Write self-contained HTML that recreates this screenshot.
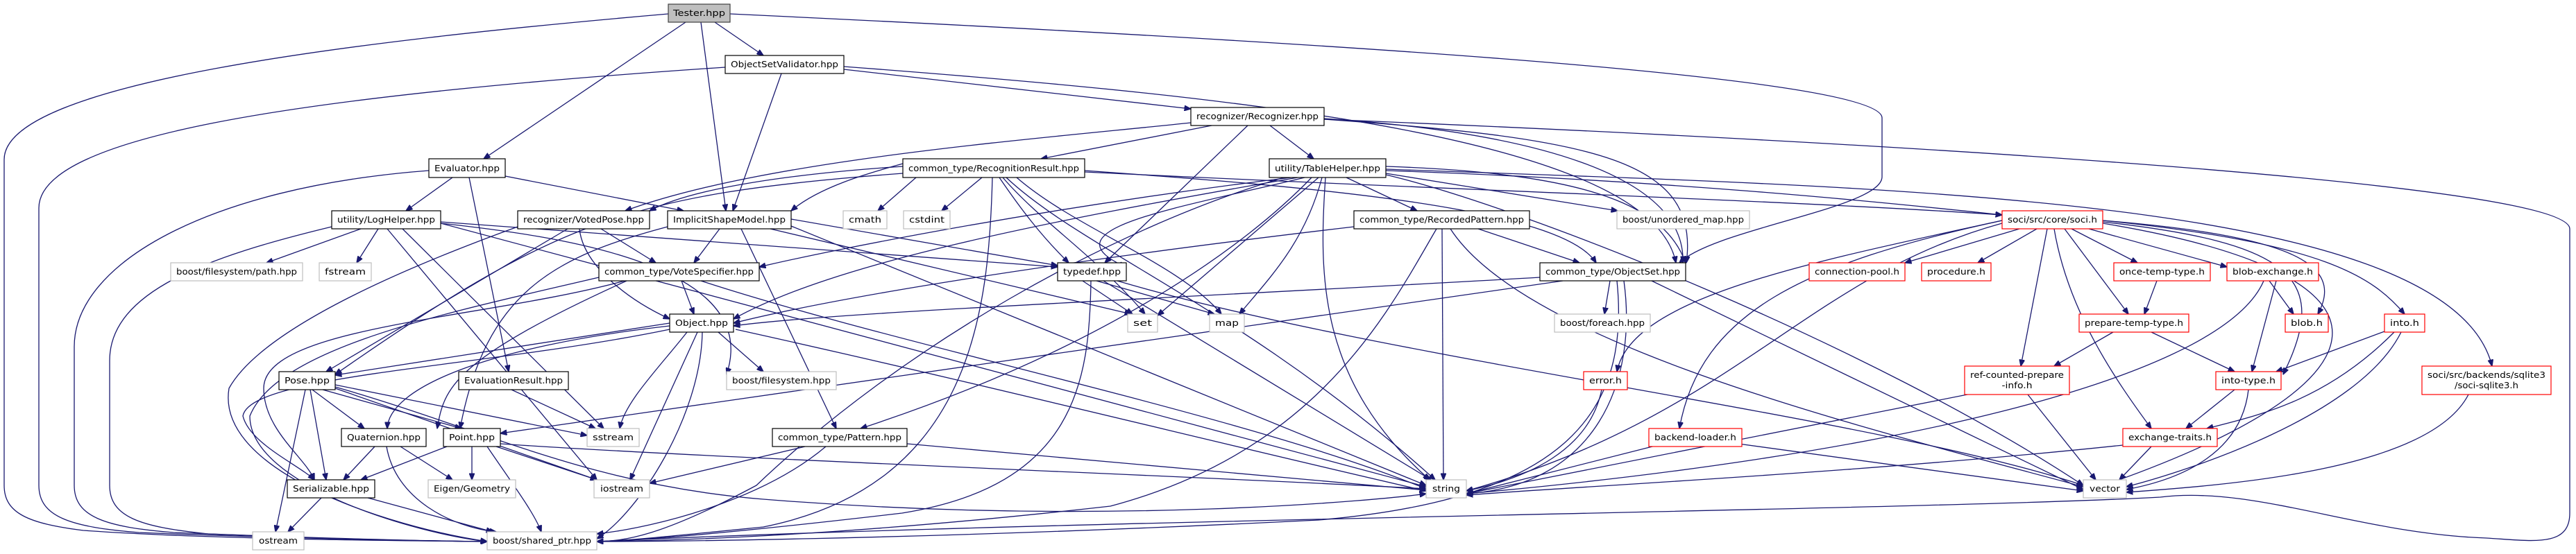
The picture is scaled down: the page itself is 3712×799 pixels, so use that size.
<!DOCTYPE html>
<html><head><meta charset="utf-8"><style>
html,body{margin:0;padding:0;background:#fff;}
svg{display:block;}
text{font-family:"DejaVu Sans","Liberation Sans",sans-serif;font-size:12px;fill:#000;}
.e{fill:none;stroke:#191970;stroke-width:1.3;marker-end:url(#a);}
.n{fill:#fff;stroke:#000;stroke-width:1.2;}
.g{fill:#fff;stroke:#bfbfbf;stroke-width:1.2;}
.r{fill:#fff;stroke:#ff0000;stroke-width:1.2;}
</style></head><body>
<svg width="3712" height="799" viewBox="0 0 3712 799" xmlns="http://www.w3.org/2000/svg">
<defs><marker id="a" markerWidth="10" markerHeight="8" refX="9.5" refY="4" orient="auto" markerUnits="userSpaceOnUse"><path d="M0,0 L10,4 L0,8 z" fill="#191970" stroke="#191970"/></marker></defs>
<g>
<!-- Tester -->
<path class="e" d="M963,20 C500,60 6,120 6,230 L6,700 C6,740 40,755 120,765 C300,778 600,780 702,781"/>
<path class="e" d="M988,32 L697,229"/>
<path class="e" d="M1010,32 L1046,304"/>
<path class="e" d="M1030,32 L1100,80"/>
<path class="e" d="M1052,20 C1900,60 2712,110 2712,170 L2712,255 C2712,300 2470,330 2420,379"/>
<!-- OSV -->
<path class="e" d="M1045,97 C400,140 56,200 56,300 L56,700 C56,745 100,760 200,768 C400,776 600,780 702,781"/>
<path class="e" d="M1126,106 L1056,304"/>
<path class="e" d="M1216,100 L1716,157"/>
<path class="e" d="M1216,96 C1800,140 2380,200 2415,379"/>
<!-- Recognizer -->
<path class="e" d="M1746,181 L1500,229"/>
<path class="e" d="M1830,181 L1893,229"/>
<path class="e" d="M1798,181 L1592,379"/>
<path class="e" d="M1716,177 C1500,200 1100,230 901,304"/>
<path class="e" d="M1908,171 C2200,190 2430,250 2425,379"/>
<path class="e" d="M1908,172 C2300,200 2450,230 2430,379"/>
<path class="e" d="M1908,172 C2600,200 3703,260 3703,330 L3703,740 C3703,790 3650,780 3583,776 C3400,770 3250,700 3113,717 C2800,735 1500,750 860,781"/>
<!-- RecognitionResult -->
<path class="e" d="M1320,256 L1265,304"/>
<path class="e" d="M1415,256 L1357,304"/>
<path class="e" d="M1440,256 C1470,300 1500,340 1540,379"/>
<path class="e" d="M1445,256 C1500,320 1580,370 1650,453"/>
<path class="e" d="M1465,256 C1550,330 1700,380 1760,453"/>
<path class="e" d="M1450,256 C1560,360 1800,450 2068,692"/>
<path class="e" d="M1430,256 C1425,450 1400,700 1100,760 C950,775 900,780 860,781"/>
<path class="e" d="M1301,240 C1150,250 1000,270 936,304"/>
<path class="e" d="M1301,250 C900,280 800,320 483,540"/>
<path class="e" d="M1563,246 C1900,270 2250,300 2300,379"/>
<path class="e" d="M1301,236 C1250,250 1180,270 1140,304"/>
<path class="e" d="M1563,248 C2000,270 2600,290 2885,310"/>
<!-- TableHelper -->
<path class="e" d="M1997,246 C2400,260 2700,290 2885,310"/>
<path class="e" d="M1997,240 C2300,250 2400,300 2429,379"/>
<path class="e" d="M1940,256 L2042,304"/>
<path class="e" d="M1997,250 L2331,304"/>
<path class="e" d="M1905,256 C1880,350 1830,400 1786,453"/>
<path class="e" d="M1900,256 L1668,455"/>
<path class="e" d="M1910,256 C1900,400 1900,550 2060,692"/>
<path class="e" d="M1880,256 C1700,300 1500,330 1622,385"/>
<path class="e" d="M1870,256 C1500,320 1200,380 1057,460"/>
<path class="e" d="M1860,256 C1500,300 1200,360 1094,385"/>
<path class="e" d="M1890,256 C1800,350 1600,500 1240,618"/>
<path class="e" d="M1850,256 C1600,330 1300,500 1090,700 C950,775 900,780 860,781"/>
<path class="e" d="M1997,252 C2200,300 2700,500 3002,700"/>
<path class="e" d="M1997,244 C2700,270 3530,280 3591,528"/>
<!-- Evaluator -->
<path class="e" d="M652,256 L585,304"/>
<path class="e" d="M728,254 L985,304"/>
<path class="e" d="M676,256 L733,536"/>
<path class="e" d="M618,246 C300,270 107,380 107,500 L107,700 C107,745 150,760 250,768 C450,776 600,780 702,781"/>
<!-- LogHelper -->
<path class="e" d="M520,330 L384,379"/>
<path class="e" d="M545,330 L514,379"/>
<path class="e" d="M580,330 L870,618"/>
<path class="e" d="M558,330 L860,692"/>
<path class="e" d="M635,322 L2055,702"/>
<path class="e" d="M635,320 L1524,385"/>
<path class="e" d="M478,327 C300,370 158,420 158,520 L158,700 C158,745 200,760 300,770 C500,778 600,780 702,781"/>
<path class="e" d="M635,322 C800,340 1100,380 1047,540"/>
<!-- VotedPose -->
<path class="e" d="M866,330 L945,379"/>
<path class="e" d="M835,330 C840,380 900,430 965,460"/>
<path class="e" d="M818,330 L470,536"/>
<path class="e" d="M746,327 C600,380 380,470 330,560 C310,680 560,760 702,781"/>
<!-- ISM -->
<path class="e" d="M1037,330 L1000,379"/>
<path class="e" d="M1068,330 L1205,618"/>
<path class="e" d="M1110,330 L1630,453"/>
<path class="e" d="M1140,326 L2055,700"/>
<path class="e" d="M1140,316 L1524,383"/>
<path class="e" d="M962,327 C800,370 700,420 663,618"/>
<!-- VoteSpecifier -->
<path class="e" d="M982,405 L1000,453"/>
<path class="e" d="M903,405 C650,520 640,560 630,618"/>
<path class="e" d="M900,405 C700,460 380,470 380,560 C380,620 440,660 453,692"/>
<path class="e" d="M1010,405 C1300,500 1800,600 2055,705"/>
<path class="e" d="M863,400 C650,450 400,500 360,600 C360,700 600,770 702,781"/>
<!-- Object -->
<path class="e" d="M965,466 L483,541"/>
<path class="e" d="M965,470 C700,500 560,560 558,618"/>
<path class="e" d="M1035,479 L1100,536"/>
<path class="e" d="M990,479 C950,530 900,580 893,618"/>
<path class="e" d="M1005,479 L908,692"/>
<path class="e" d="M1060,475 C1400,550 1800,650 2055,708"/>
<path class="e" d="M1012,479 C1010,600 920,740 860,777"/>
<path class="e" d="M965,475 C700,530 360,540 350,600 C360,640 430,670 453,692"/>
<!-- Pose -->
<path class="e" d="M450,562 L525,618"/>
<path class="e" d="M465,562 L665,618"/>
<path class="e" d="M447,562 L470,692"/>
<path class="e" d="M483,555 L846,628"/>
<path class="e" d="M483,558 C700,620 850,700 1100,720 C1600,760 2000,720 2055,712"/>
<path class="e" d="M440,562 L397,767"/>
<path class="e" d="M483,560 L860,692"/>
<!-- EvaluationResult -->
<path class="e" d="M737,562 L858,618"/>
<!-- Quaternion -->
<path class="e" d="M540,644 L495,692"/>
<path class="e" d="M577,644 L652,692"/>
<path class="e" d="M557,644 C570,720 650,760 715,767"/>
<!-- Point -->
<path class="e" d="M644,644 L520,692"/>
<path class="e" d="M680,644 L680,692"/>
<path class="e" d="M715,644 L860,692"/>
<path class="e" d="M702,644 C740,700 770,740 780,767"/>
<path class="e" d="M721,640 C1000,660 1800,690 2055,705"/>
<!-- Serializable -->
<path class="e" d="M463,718 L415,767"/>
<path class="e" d="M530,718 L710,767"/>
<!-- Pattern -->
<path class="e" d="M1160,644 L936,697"/>
<path class="e" d="M1190,644 C1100,720 950,760 860,770"/>
<path class="e" d="M1307,640 L2055,707"/>
<!-- typedef -->
<path class="e" d="M1560,405 L1632,453"/>
<path class="e" d="M1580,405 L1750,453"/>
<path class="e" d="M1590,405 L2062,692"/>
<path class="e" d="M1572,405 C1570,550 1550,700 1300,740 C1000,775 900,780 860,781"/>
<path class="e" d="M1610,405 C2000,520 2700,600 3002,700"/>
<!-- RecordedPattern -->
<path class="e" d="M2130,330 L2276,379"/>
<path class="e" d="M2078,330 L2080,692"/>
<path class="e" d="M2070,330 C2000,450 1900,650 1600,730 C1200,775 950,780 860,781"/>
<path class="e" d="M2090,330 C2200,500 2700,620 3002,702"/>
<path class="e" d="M1951,327 C1500,380 1200,430 1057,466"/>
<!-- ObjectSet -->
<path class="e" d="M2320,405 L2312,453"/>
<path class="e" d="M2219,400 C1700,430 1200,450 1057,470"/>
<path class="e" d="M2252,405 L721,625"/>
<path class="e" d="M2340,405 C2360,550 2300,700 2113,712"/>
<path class="e" d="M2380,405 L3002,706"/>
<path class="e" d="M2330,405 C2350,600 2250,720 1900,750 C1300,780 900,781 860,781"/>
<!-- error / backend-loader -->
<path class="e" d="M2308,562 C2290,650 2200,690 2113,708"/>
<path class="e" d="M2385,643 L2113,712"/>
<path class="e" d="M2505,640 L3002,708"/>
<!-- soci -->
<path class="e" d="M2910,330 L2745,379"/>
<path class="e" d="M2935,330 L2850,379"/>
<path class="e" d="M2985,330 L3080,379"/>
<path class="e" d="M3010,330 L3209,385"/>
<path class="e" d="M2975,330 L3067,453"/>
<path class="e" d="M2950,330 L2912,528"/>
<path class="e" d="M2885,318 C2600,380 2350,430 2330,536"/>
<path class="e" d="M2885,318 C2600,380 2450,450 2420,618"/>
<path class="e" d="M2960,330 C2980,450 3050,550 3100,618"/>
<path class="e" d="M3030,320 C3300,350 3360,400 3290,540"/>
<path class="e" d="M3030,318 C3350,350 3420,400 3465,453"/>
<path class="e" d="M3030,318 C3300,340 3380,380 3340,453"/>
<path class="e" d="M3030,322 C3500,400 3450,560 3002,710"/>
<path class="e" d="M2885,322 C2600,400 2500,600 2113,708"/>
<!-- once / prepare / blob-exchange -->
<path class="e" d="M3108,405 L3090,453"/>
<path class="e" d="M3045,479 L2960,528"/>
<path class="e" d="M3100,479 L3220,536"/>
<path class="e" d="M3270,405 L3305,453"/>
<path class="e" d="M3280,405 L3245,536"/>
<path class="e" d="M3262,405 C3200,550 2700,660 2113,712"/>
<!-- into -->
<path class="e" d="M3436,478 L3280,536"/>
<path class="e" d="M3450,479 C3350,580 3250,600 3180,618"/>
<path class="e" d="M3460,479 C3400,600 3150,680 3064,702"/>
<!-- into-type -->
<path class="e" d="M3220,562 L3150,618"/>
<path class="e" d="M3240,562 C3230,650 3150,690 3064,706"/>
<!-- ref-counted -->
<path class="e" d="M2835,569 L2113,712"/>
<path class="e" d="M2922,569 L3020,692"/>
<!-- exchange-traits -->
<path class="e" d="M3100,644 L3054,692"/>
<path class="e" d="M3059,642 C2700,680 2300,700 2113,714"/>
<!-- sqlite3 -->
<path class="e" d="M3557,569 C3500,680 3200,700 3064,710"/>
</g>
<g>
<rect x="963" y="6" width="89" height="26" fill="#bfbfbf" stroke="#404040" stroke-width="1.2"/><text x="1007.5" y="23" text-anchor="middle" textLength="75" lengthAdjust="spacingAndGlyphs">Tester.hpp</text>
<rect class="n" x="1045" y="80" width="171" height="26"/><text x="1130.5" y="97" text-anchor="middle" textLength="155" lengthAdjust="spacingAndGlyphs">ObjectSetValidator.hpp</text>
<rect class="n" x="1716" y="155" width="192" height="26"/><text x="1812" y="172" text-anchor="middle" textLength="176" lengthAdjust="spacingAndGlyphs">recognizer/Recognizer.hpp</text>
<rect class="n" x="618" y="229" width="110" height="27"/><text x="673" y="247" text-anchor="middle" textLength="94" lengthAdjust="spacingAndGlyphs">Evaluator.hpp</text>
<rect class="n" x="1301" y="229" width="262" height="27"/><text x="1432" y="247" text-anchor="middle" textLength="246" lengthAdjust="spacingAndGlyphs">common_type/RecognitionResult.hpp</text>
<rect class="n" x="1829" y="229" width="168" height="27"/><text x="1913" y="247" text-anchor="middle" textLength="152" lengthAdjust="spacingAndGlyphs">utility/TableHelper.hpp</text>
<rect class="n" x="478" y="304" width="157" height="26"/><text x="556.5" y="321" text-anchor="middle" textLength="141" lengthAdjust="spacingAndGlyphs">utility/LogHelper.hpp</text>
<rect class="n" x="746" y="304" width="190" height="26"/><text x="841" y="321" text-anchor="middle" textLength="174" lengthAdjust="spacingAndGlyphs">recognizer/VotedPose.hpp</text>
<rect class="n" x="962" y="304" width="178" height="26"/><text x="1051" y="321" text-anchor="middle" textLength="162" lengthAdjust="spacingAndGlyphs">ImplicitShapeModel.hpp</text>
<rect class="g" x="1215" y="304" width="63" height="26"/><text x="1246.5" y="321" text-anchor="middle" textLength="47" lengthAdjust="spacingAndGlyphs">cmath</text>
<rect class="g" x="1302" y="304" width="67" height="26"/><text x="1335.5" y="321" text-anchor="middle" textLength="51" lengthAdjust="spacingAndGlyphs">cstdint</text>
<rect class="n" x="1951" y="304" width="253" height="26"/><text x="2077.5" y="321" text-anchor="middle" textLength="237" lengthAdjust="spacingAndGlyphs">common_type/RecordedPattern.hpp</text>
<rect class="g" x="2330" y="304" width="191" height="26"/><text x="2425.5" y="321" text-anchor="middle" textLength="175" lengthAdjust="spacingAndGlyphs">boost/unordered_map.hpp</text>
<rect class="r" x="2885" y="304" width="145" height="26"/><text x="2957.5" y="321" text-anchor="middle" textLength="129" lengthAdjust="spacingAndGlyphs">soci/src/core/soci.h</text>
<rect class="g" x="246" y="379" width="190" height="26"/><text x="341" y="396" text-anchor="middle" textLength="174" lengthAdjust="spacingAndGlyphs">boost/filesystem/path.hpp</text>
<rect class="g" x="460" y="379" width="75" height="26"/><text x="497.5" y="396" text-anchor="middle" textLength="59" lengthAdjust="spacingAndGlyphs">fstream</text>
<rect class="n" x="863" y="379" width="231" height="26"/><text x="978.5" y="396" text-anchor="middle" textLength="215" lengthAdjust="spacingAndGlyphs">common_type/VoteSpecifier.hpp</text>
<rect class="n" x="1524" y="379" width="99" height="26"/><text x="1573.5" y="396" text-anchor="middle" textLength="83" lengthAdjust="spacingAndGlyphs">typedef.hpp</text>
<rect class="n" x="2219" y="379" width="210" height="26"/><text x="2324" y="396" text-anchor="middle" textLength="194" lengthAdjust="spacingAndGlyphs">common_type/ObjectSet.hpp</text>
<rect class="r" x="2607" y="379" width="138" height="26"/><text x="2676" y="396" text-anchor="middle" textLength="122" lengthAdjust="spacingAndGlyphs">connection-pool.h</text>
<rect class="r" x="2769" y="379" width="100" height="26"/><text x="2819" y="396" text-anchor="middle" textLength="84" lengthAdjust="spacingAndGlyphs">procedure.h</text>
<rect class="r" x="3046" y="379" width="139" height="26"/><text x="3115.5" y="396" text-anchor="middle" textLength="123" lengthAdjust="spacingAndGlyphs">once-temp-type.h</text>
<rect class="r" x="3209" y="379" width="132" height="26"/><text x="3275" y="396" text-anchor="middle" textLength="116" lengthAdjust="spacingAndGlyphs">blob-exchange.h</text>
<rect class="n" x="965" y="453" width="92" height="26"/><text x="1011" y="470" text-anchor="middle" textLength="76" lengthAdjust="spacingAndGlyphs">Object.hpp</text>
<rect class="g" x="1625" y="453" width="43" height="26"/><text x="1646.5" y="470" text-anchor="middle" textLength="27" lengthAdjust="spacingAndGlyphs">set</text>
<rect class="g" x="1743" y="453" width="50" height="26"/><text x="1768" y="470" text-anchor="middle" textLength="34" lengthAdjust="spacingAndGlyphs">map</text>
<rect class="g" x="2240" y="453" width="138" height="26"/><text x="2309" y="470" text-anchor="middle" textLength="122" lengthAdjust="spacingAndGlyphs">boost/foreach.hpp</text>
<rect class="r" x="2996" y="453" width="158" height="26"/><text x="3075" y="470" text-anchor="middle" textLength="142" lengthAdjust="spacingAndGlyphs">prepare-temp-type.h</text>
<rect class="r" x="3293" y="453" width="62" height="26"/><text x="3324" y="470" text-anchor="middle" textLength="46" lengthAdjust="spacingAndGlyphs">blob.h</text>
<rect class="r" x="3436" y="453" width="58" height="26"/><text x="3465" y="470" text-anchor="middle" textLength="42" lengthAdjust="spacingAndGlyphs">into.h</text>
<rect class="n" x="402" y="536" width="81" height="26"/><text x="442.5" y="553" text-anchor="middle" textLength="65" lengthAdjust="spacingAndGlyphs">Pose.hpp</text>
<rect class="n" x="661" y="536" width="158" height="26"/><text x="740" y="553" text-anchor="middle" textLength="142" lengthAdjust="spacingAndGlyphs">EvaluationResult.hpp</text>
<rect class="g" x="1047" y="536" width="158" height="26"/><text x="1126" y="553" text-anchor="middle" textLength="142" lengthAdjust="spacingAndGlyphs">boost/filesystem.hpp</text>
<rect class="r" x="2282" y="536" width="63" height="26"/><text x="2313.5" y="553" text-anchor="middle" textLength="47" lengthAdjust="spacingAndGlyphs">error.h</text>
<rect class="r" x="2831" y="528" width="151" height="41"/><text x="2906.5" y="545" text-anchor="middle" textLength="135" lengthAdjust="spacingAndGlyphs">ref-counted-prepare</text><text x="2906.5" y="560" text-anchor="middle" textLength="44" lengthAdjust="spacingAndGlyphs">-info.h</text>
<rect class="r" x="3193" y="536" width="94" height="26"/><text x="3240" y="553" text-anchor="middle" textLength="78" lengthAdjust="spacingAndGlyphs">into-type.h</text>
<rect class="r" x="3490" y="528" width="186" height="41"/><text x="3583" y="545" text-anchor="middle" textLength="170" lengthAdjust="spacingAndGlyphs">soci/src/backends/sqlite3</text><text x="3583" y="560" text-anchor="middle" textLength="92" lengthAdjust="spacingAndGlyphs">/soci-sqlite3.h</text>
<rect class="n" x="492" y="618" width="122" height="26"/><text x="553" y="635" text-anchor="middle" textLength="106" lengthAdjust="spacingAndGlyphs">Quaternion.hpp</text>
<rect class="n" x="639" y="618" width="82" height="26"/><text x="680" y="635" text-anchor="middle" textLength="66" lengthAdjust="spacingAndGlyphs">Point.hpp</text>
<rect class="g" x="846" y="618" width="75" height="26"/><text x="883.5" y="635" text-anchor="middle" textLength="59" lengthAdjust="spacingAndGlyphs">sstream</text>
<rect class="n" x="1113" y="618" width="194" height="26"/><text x="1210" y="635" text-anchor="middle" textLength="178" lengthAdjust="spacingAndGlyphs">common_type/Pattern.hpp</text>
<rect class="r" x="2376" y="618" width="134" height="26"/><text x="2443" y="635" text-anchor="middle" textLength="118" lengthAdjust="spacingAndGlyphs">backend-loader.h</text>
<rect class="r" x="3059" y="618" width="136" height="26"/><text x="3127" y="635" text-anchor="middle" textLength="120" lengthAdjust="spacingAndGlyphs">exchange-traits.h</text>
<rect class="n" x="414" y="692" width="126" height="26"/><text x="477" y="709" text-anchor="middle" textLength="110" lengthAdjust="spacingAndGlyphs">Serializable.hpp</text>
<rect class="g" x="617" y="692" width="126" height="26"/><text x="680" y="709" text-anchor="middle" textLength="110" lengthAdjust="spacingAndGlyphs">Eigen/Geometry</text>
<rect class="g" x="856" y="692" width="80" height="26"/><text x="896" y="709" text-anchor="middle" textLength="62" lengthAdjust="spacingAndGlyphs">iostream</text>
<rect class="g" x="2055" y="692" width="58" height="26"/><text x="2084" y="709" text-anchor="middle" textLength="40" lengthAdjust="spacingAndGlyphs">string</text>
<rect class="g" x="3002" y="692" width="62" height="26"/><text x="3033" y="709" text-anchor="middle" textLength="44" lengthAdjust="spacingAndGlyphs">vector</text>
<rect class="g" x="364" y="767" width="74" height="26"/><text x="401" y="784" text-anchor="middle" textLength="56" lengthAdjust="spacingAndGlyphs">ostream</text>
<rect class="g" x="702" y="767" width="158" height="26"/><text x="781" y="784" text-anchor="middle" textLength="142" lengthAdjust="spacingAndGlyphs">boost/shared_ptr.hpp</text>
</g>
</svg>
</body></html>
